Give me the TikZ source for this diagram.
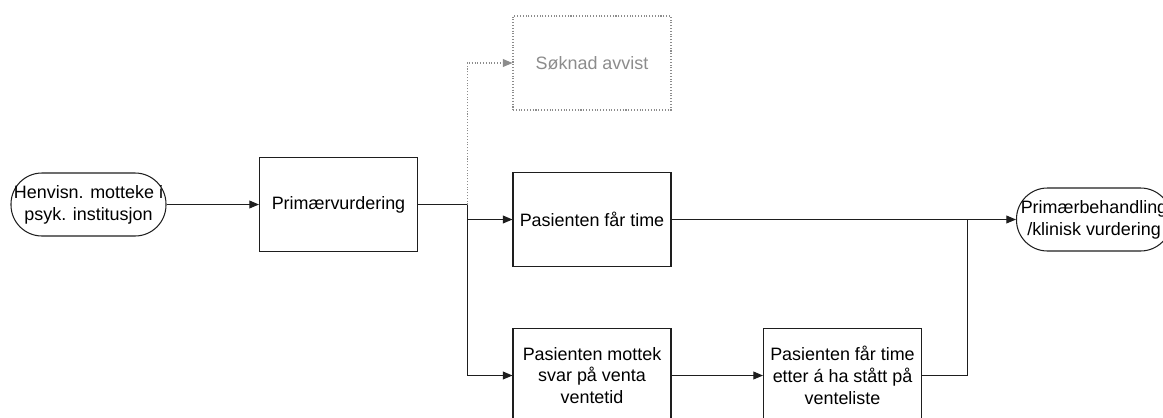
\documentclass[tikz,border=0pt]{standalone}
\usepackage{fontspec}
\setmainfont{Liberation Sans}
\usetikzlibrary{arrows.meta}
\definecolor{Ink}{HTML}{1E1E1E}
\definecolor{Faint}{HTML}{8C8C8C}

\begin{document}
\begin{tikzpicture}[node distance=1.8cm,>={Triangle[length=5.5pt,width=4.5pt]},
    prosess/.style={draw=Ink,line width=0.6pt,minimum width=3.16cm,minimum height=1.88cm,align=center,inner sep=1pt,font=\fontsize{10.2}{12.4}\selectfont},
    ende/.style={draw=Ink,line width=0.6pt,rounded corners=0.62cm,minimum width=3.1cm,minimum height=1.26cm,inner sep=0pt,align=center,font=\fontsize{10.2}{12.4}\selectfont},
    pil/.style={->,line width=0.6pt,Ink}]
    \useasboundingbox (0,0) rectangle (23.26,-8.34);
    \node[ende] (henv) at (1.77,-4.09) {Henvisn. motteke i\\psyk. institusjon};
    \node[prosess,right of=henv,xshift=3.2cm] (prim) {Primærvurdering};
    \node[prosess,right of=prim,xshift=3.27cm,yshift=-0.3cm] (ftime) {Pasienten får time};
    \node[prosess,above of=ftime,yshift=1.33cm,draw=Faint,densely dotted,text=Faint] (avvist) {Søknad avvist};
    \node[prosess,below of=ftime,yshift=-1.32cm] (mottek) {Pasienten mottek\\svar på venta\\ventetid};
    \node[prosess,right of=mottek,xshift=3.21cm] (vente) {Pasienten får time\\etter á ha stått på\\venteliste};
    \node[ende,right of=ftime,xshift=8.24cm] (primbeh) {Primærbehandling\\/klinisk vurdering};
    % piler
    \draw[pil] (henv) -- (prim);
    \draw[line width=0.6pt,Ink] (prim.east) -- ++(0.98,0) coordinate (split);
    \draw[pil] (split) |- (ftime.west);
    \draw[pil] (split) |- (mottek.west);
    \draw[pil,Faint,densely dotted] (split) |- (avvist.west);
    \draw[pil] (ftime) -- (primbeh) coordinate[pos=0.86] (join);
    \draw[pil] (mottek) -- (vente);
    \draw[line width=0.6pt,Ink] (vente.east) -| (join);
  \end{tikzpicture}
\end{document}
